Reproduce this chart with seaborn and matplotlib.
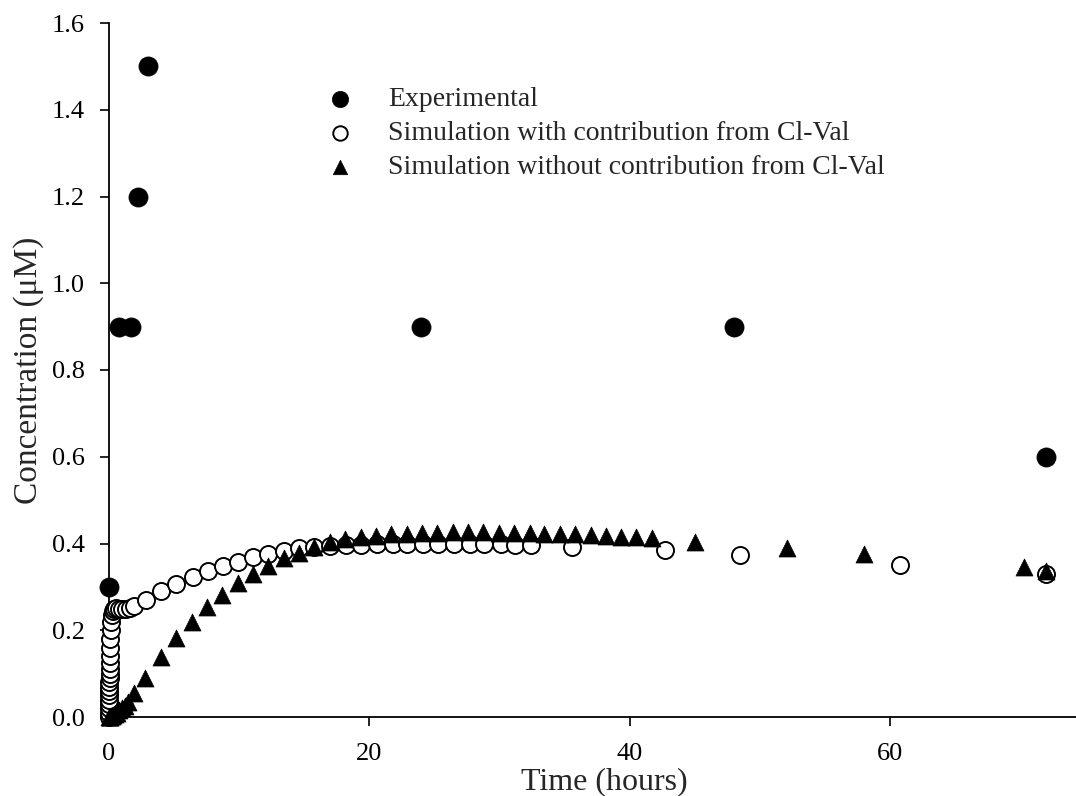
import numpy as np
import pandas as pd
import matplotlib
matplotlib.use("Agg")
import matplotlib.pyplot as plt
import seaborn as sns

# Measured concentrations (hours, µM)
exp_time = [0.0, 0.75, 1.67, 2.2, 3.0, 24.0, 48.0, 72.0]
exp_conc = [0.3, 0.9, 0.9, 1.2, 1.5, 0.9, 0.9, 0.6]

# Model output including the Cl-Val contribution
with_time = [0.0, 0.003, 0.006, 0.01, 0.014, 0.018, 0.023, 0.028, 0.034, 0.04,
             0.047, 0.055, 0.064, 0.074, 0.085, 0.1, 0.12, 0.15, 0.2, 0.28,
             0.4, 0.55, 0.75, 1.0, 1.3, 1.6, 1.95, 2.84, 4.0, 5.15,
             6.43, 7.58, 8.74, 9.89, 11.04, 12.25, 13.47, 14.63, 15.78, 16.99,
             18.2, 19.4, 20.6, 21.8, 22.9, 24.1, 25.3, 26.5, 27.7, 28.8,
             30.1, 31.2, 32.4, 35.6, 42.7, 48.5, 60.8, 72.0]
with_conc = [0.0, 0.01, 0.02, 0.03, 0.04, 0.05, 0.06, 0.07, 0.08, 0.09,
             0.1, 0.11, 0.125, 0.14, 0.16, 0.18, 0.2, 0.22, 0.235, 0.245,
             0.25, 0.251, 0.25, 0.249, 0.25, 0.252, 0.256, 0.270, 0.290, 0.306,
             0.323, 0.337, 0.349, 0.358, 0.368, 0.376, 0.383, 0.389, 0.392, 0.394,
             0.396, 0.397, 0.398, 0.399, 0.399, 0.399, 0.399, 0.399, 0.399, 0.398,
             0.398, 0.397, 0.396, 0.392, 0.384, 0.373, 0.350, 0.329]

# Model output without the Cl-Val contribution
without_time = [0.0, 0.05, 0.1, 0.2, 0.3, 0.45, 0.6, 0.8, 1.0, 1.2,
                1.45, 1.95, 2.79, 4.0, 5.15, 6.35, 7.53, 8.69, 9.89, 11.04,
                12.25, 13.43, 14.63, 15.78, 16.99, 18.14, 19.35, 20.52, 21.68, 22.88,
                24.04, 25.19, 26.42, 27.57, 28.77, 29.93, 31.13, 32.31, 33.46, 34.66,
                35.82, 37.03, 38.2, 39.33, 40.5, 41.71, 45.0, 52.1, 58.0, 70.3,
                72.0]
without_conc = [0.0, 0.0005, 0.001, 0.002, 0.004, 0.007, 0.01, 0.015, 0.02, 0.026,
                0.034, 0.055, 0.089, 0.138, 0.181, 0.220, 0.253, 0.281, 0.308, 0.329,
                0.348, 0.366, 0.379, 0.392, 0.404, 0.410, 0.414, 0.418, 0.421, 0.423,
                0.424, 0.425, 0.426, 0.426, 0.426, 0.425, 0.425, 0.424, 0.423, 0.422,
                0.421, 0.419, 0.418, 0.416, 0.414, 0.412, 0.403, 0.389, 0.375, 0.345,
                0.336]

labels = ["Experimental",
          "Simulation with contribution from Cl-Val",
          "Simulation without contribution from Cl-Val"]
x_ticks = [0, 20, 40, 60]
y_ticks = [0.0, 0.2, 0.4, 0.6, 0.8, 1.0, 1.2, 1.4, 1.6]

sns.set_theme(style="ticks")
plt.rcParams["font.family"] = ["Liberation Serif", "DejaVu Serif"]

df_exp = pd.DataFrame({"t": exp_time, "c": exp_conc})
df_with = pd.DataFrame({"t": with_time, "c": with_conc})
df_without = pd.DataFrame({"t": without_time, "c": without_conc})

fig = plt.figure(figsize=(10.76, 7.96), dpi=100)
ax = fig.add_axes([109 / 1076, 1 - 717 / 796, 1 - 109 / 1076, 694 / 796])

sns.scatterplot(data=df_with, x="t", y="c", ax=ax, marker="o", s=150,
                facecolor="white", edgecolor="black", linewidth=1.4,
                label=labels[1], clip_on=False, zorder=3)
sns.scatterplot(data=df_without, x="t", y="c", ax=ax, marker="^", s=150,
                color="black", edgecolor="black", linewidth=0.5,
                label=labels[2], clip_on=False, zorder=4)
sns.scatterplot(data=df_exp, x="t", y="c", ax=ax, marker="o", s=190,
                color="black", edgecolor="black", linewidth=0.5,
                label=labels[0], clip_on=False, zorder=5)

ax.set_xlim(0, 74.3)
ax.set_ylim(0, 1.6)
ax.set_xticks(x_ticks)
ax.set_yticks(y_ticks)
ax.set_yticklabels([f"{v:.1f}" for v in y_ticks])
ax.tick_params(axis="both", direction="out", length=6.5, width=1.2,
               labelsize=19, color="black", labelcolor="black")
ax.tick_params(axis="x", pad=12.5)
ax.tick_params(axis="y", pad=11)
for side in ("left", "bottom"):
    ax.spines[side].set_linewidth(1.3)
    ax.spines[side].set_color("black")
sns.despine(ax=ax)

ax.set_xlabel("Time (hours)", fontsize=23)
ax.set_ylabel("Concentration (\u03bcM)", fontsize=24)
ax.xaxis.set_label_coords(0.512, -0.0728)
ax.yaxis.set_label_coords(-0.067, 0.5)

handles, labs = ax.get_legend_handles_labels()
order = [labs.index(l) for l in labels]
leg = ax.legend([handles[i] for i in order], [labs[i] for i in order],
                frameon=False, fontsize=20, loc="upper left",
                bbox_to_anchor=(309 / 1076, 1 - 73 / 796),
                bbox_transform=fig.transFigure,
                handletextpad=1.15, labelspacing=0.3, borderpad=0.0,
                handlelength=1.2, markerscale=0.85)

fig.savefig("out.png", dpi=100)
